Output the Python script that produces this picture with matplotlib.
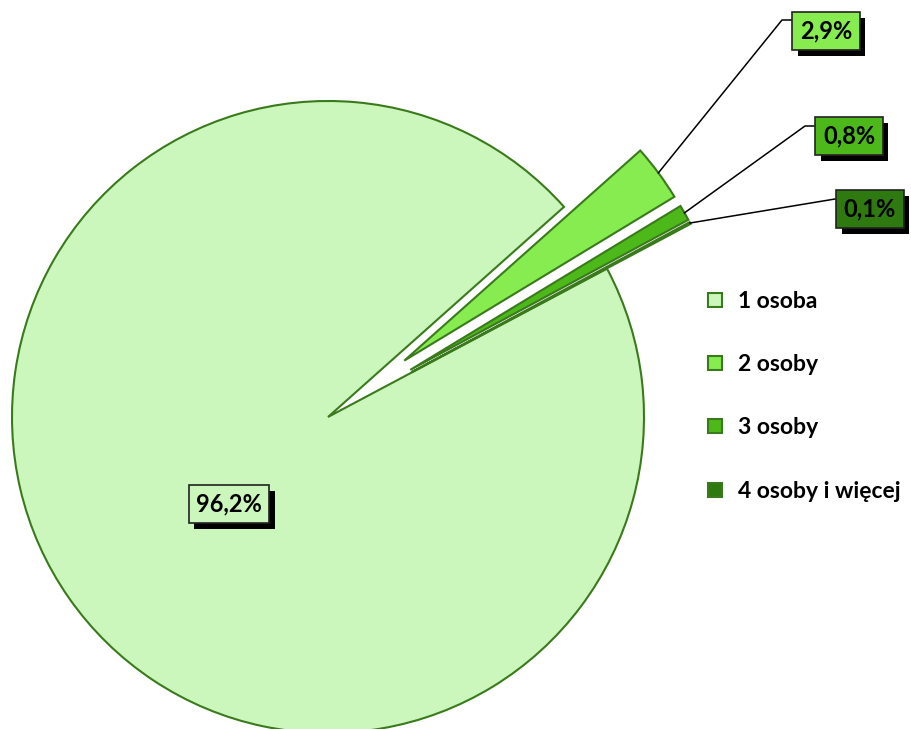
import numpy as np
import matplotlib.pyplot as plt
import matplotlib.patheffects as pe
from matplotlib.lines import Line2D

categories = ["1 osoba", "2 osoby", "3 osoby", "4 osoby i więcej"]
values = [96.2, 2.9, 0.8, 0.1]
labels = ["96,2%", "2,9%", "0,8%", "0,1%"]
colors = ["#ccf7bc", "#86ec50", "#4db81a", "#2f7a10"]
edge = "#3a7a1c"

W, H = 911, 729
fig = plt.figure(figsize=(W / 100, H / 100), dpi=100)
ax = fig.add_axes([0, 0, 1, 1])

R = 316
cx, cy = 328, H - 417
wedges, _ = ax.pie(values, radius=R, center=(cx, cy), startangle=28.0,
                   counterclock=False, explode=[0, 0.3 * R, 0.3 * R, 0.3 * R],
                   colors=colors, wedgeprops=dict(edgecolor=edge, linewidth=1.5),
                   frame=True)
ax.set_xlim(0, W)
ax.set_ylim(0, H)
ax.set_aspect("auto")
ax.axis("off")

font = "Lato"
shadow = [pe.withSimplePatchShadow(offset=(4, -4), shadow_rgbFace="black", alpha=1)]

# label box positions (pixel coords, y measured from top) and leader elbows
box_pos = [(229, 504), (826, 31), (849, 136), (870, 209)]
elbows = [None, (782, 20), (805, 126), (835, 199)]
box_left = [None, 792, 815, 837]

for i, w in enumerate(wedges):
    bx, by = box_pos[i]
    t = ax.text(bx, H - by, labels[i], ha="center", va="center", fontsize=17,
                fontweight="bold", family=font, color="black", zorder=5,
                bbox=dict(boxstyle="square,pad=0.32", facecolor=colors[i],
                          edgecolor="#222222", linewidth=1.2))
    t.get_bbox_patch().set_path_effects(shadow)
    if elbows[i] is not None:
        mid = np.deg2rad((w.theta1 + w.theta2) / 2)
        x0 = w.center[0] + w.r * np.cos(mid)
        y0 = w.center[1] + w.r * np.sin(mid)
        ex, ey = elbows[i]
        ax.plot([x0, ex, box_left[i]], [y0, H - ey, H - ey], color="black",
                linewidth=1.1, zorder=4)

handles = [Line2D([], [], linestyle="none", marker="s", markersize=10,
                  markerfacecolor=c, markeredgecolor=edge, markeredgewidth=1.5)
           for c in colors]
leg = ax.legend(handles, categories, loc="upper left",
                bbox_to_anchor=(684 / W, 1 - 270 / H), frameon=False,
                prop=dict(family=font, weight="bold", size=16.5),
                labelspacing=1.85, handlelength=0.9, handletextpad=0.55)

fig.savefig("out.png", dpi=100)
